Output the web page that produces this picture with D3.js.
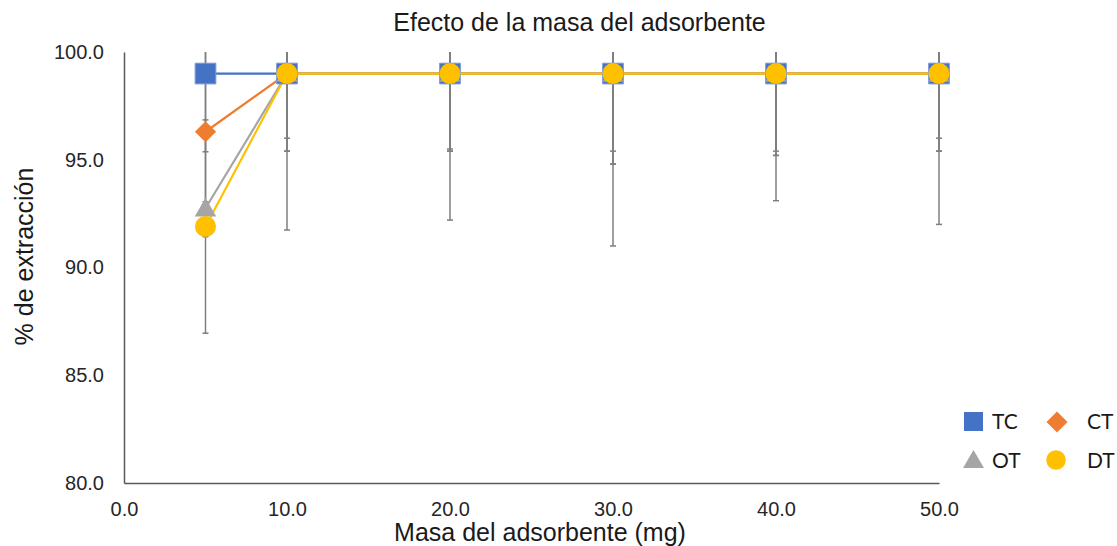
<!DOCTYPE html>
<html>
<head>
<meta charset="utf-8">
<script src="https://cdn.jsdelivr.net/npm/d3@7"></script>
<style>
  html, body { margin: 0; padding: 0; background: #fff; }
  svg { display: block; }
</style>
</head>
<body>
<svg id="chart" width="1117" height="546"></svg>
<script>
// ---- Data ----
const masses = [5, 10, 20, 30, 40, 50];
const seriesNames = ["TC", "CT", "OT", "DT"];
const tcValues = [99.0, 99.0, 99.0, 99.0, 99.0, 99.0];
const ctValues = [96.3, 99.0, 99.0, 99.0, 99.0, 99.0];
const otValues = [92.75, 99.0, 99.0, 99.0, 99.0, 99.0];
const dtValues = [91.9, 99.0, 99.0, 99.0, 99.0, 99.0];
const tcErrors = [3.63, 3.0, 3.5, 3.6, 3.6, 3.0];
const ctErrors = [4.87, 3.6, 3.6, 4.2, 3.8, 3.6];
const otErrors = [0.3, 7.26, 6.8, 8.0, 5.9, 7.0];
const dtErrors = [4.95, 3.6, 3.6, 4.2, 3.8, 3.6];
const xTicks = [0, 10, 20, 30, 40, 50];
const yTicks = [80, 85, 90, 95, 100];
const titleText = "Efecto de la masa del adsorbente";
const xTitle = "Masa del adsorbente (mg)";
const yTitle = "% de extracción";

const colors = { TC: "#4472C4", CT: "#ED7D31", OT: "#A5A5A5", DT: "#FFC000" };
const symbols = { TC: d3.symbolSquare, CT: d3.symbolSquare, OT: d3.symbolTriangle, DT: d3.symbolCircle };
const symRotate = { TC: 0, CT: 45, OT: 0, DT: 0 };
const symSizes = { TC: 430, CT: 225, OT: 200, DT: 350 };

const series = [
  { name: "TC", values: tcValues, errors: tcErrors },
  { name: "CT", values: ctValues, errors: ctErrors },
  { name: "OT", values: otValues, errors: otErrors },
  { name: "DT", values: dtValues, errors: dtErrors }
];

// ---- Layout ----
const svg = d3.select("#chart");
const pLeft = 124, pRight = 939, pTop = 52, pBottom = 483;
const x = d3.scaleLinear().domain([0, 50]).range([pLeft, pRight]);
const y = d3.scaleLinear().domain([80, 100]).range([pBottom, pTop]);
const font = "'Liberation Sans', Arial, sans-serif";

// Title
svg.append("text").attr("x", 579.5).attr("y", 31)
  .attr("text-anchor", "middle").attr("font-family", font).attr("font-size", 25)
  .attr("fill", "#1a1a1a").text(titleText);

// Axes
const yAxis = d3.axisLeft(y).tickValues(yTicks).tickFormat(d3.format(".1f")).tickSize(0).tickPadding(20);
const xAxis = d3.axisBottom(x).tickValues(xTicks).tickFormat(d3.format(".1f")).tickSize(0).tickPadding(20);

const gy = svg.append("g").attr("transform", `translate(${pLeft},0)`).call(yAxis);
const gx = svg.append("g").attr("transform", `translate(0,${pBottom})`).call(xAxis);
[gy, gx].forEach(g => {
  g.select(".domain").attr("stroke", "#595959").attr("stroke-width", 1.5);
  g.selectAll("text").attr("font-family", font).attr("font-size", 20).attr("fill", "#262626");
});
gx.selectAll("text").attr("dy", "0.71em").attr("y", 19);

// Axis titles
svg.append("text").attr("x", 540).attr("y", 541)
  .attr("text-anchor", "middle").attr("font-family", font).attr("font-size", 25)
  .attr("fill", "#1a1a1a").text(xTitle);
svg.append("text").attr("transform", "translate(33,256.5) rotate(-90)")
  .attr("text-anchor", "middle").attr("font-family", font).attr("font-size", 25)
  .attr("fill", "#1a1a1a").text(yTitle);

// Clip for error bars (upper ends are cut at the axis maximum)
svg.append("clipPath").attr("id", "plotclip")
  .append("rect").attr("x", 0).attr("y", pTop).attr("width", 1117).attr("height", pBottom - pTop);

// Error bars
const eg = svg.append("g").attr("clip-path", "url(#plotclip)");
series.forEach(s => {
  masses.forEach((m, i) => {
    const v = s.values[i], e = s.errors[i];
    const cx = x(m);
    const y1 = y(v + e), y0 = y(v - e);
    eg.append("line").attr("x1", cx).attr("x2", cx).attr("y1", y1).attr("y2", y0)
      .attr("stroke", "#7f7f7f").attr("stroke-width", 1.5);
    [y1, y0].forEach(yy => {
      eg.append("line").attr("x1", cx - 3).attr("x2", cx + 3).attr("y1", yy).attr("y2", yy)
        .attr("stroke", "#7f7f7f").attr("stroke-width", 1.5);
    });
  });
});

// Lines
const line = d3.line().x((d, i) => x(masses[i])).y(d => y(d));
series.forEach(s => {
  svg.append("path").datum(s.values).attr("d", line)
    .attr("fill", "none").attr("stroke", colors[s.name]).attr("stroke-width", 2.2);
});

// Markers
series.forEach(s => {
  const sym = d3.symbol().type(symbols[s.name]).size(symSizes[s.name]);
  svg.append("g").selectAll("path").data(s.values).join("path")
    .attr("d", sym)
    .attr("transform", (d, i) => `translate(${x(masses[i])},${y(d) + (s.name === "OT" ? 2 : 0)}) rotate(${symRotate[s.name]})`)
    .attr("fill", colors[s.name])
    .attr("stroke", s.name === "TC" ? "#7f9bd6" : "none")
    .attr("stroke-width", 1);
});

// Legend
const legendItems = [
  { name: "TC", sx: 973.5, sy: 421.5, tx: 992, ty: 429 },
  { name: "CT", sx: 1057, sy: 422, tx: 1087, ty: 429 },
  { name: "OT", sx: 973.5, sy: 462, tx: 992, ty: 468 },
  { name: "DT", sx: 1056, sy: 460, tx: 1087, ty: 468 }
];
const lg = svg.append("g");
legendItems.forEach(it => {
  const size = { TC: 360, CT: 220, OT: 190, DT: 300 }[it.name];
  lg.append("path").attr("d", d3.symbol().type(symbols[it.name]).size(size)())
    .attr("transform", `translate(${it.sx},${it.sy}) rotate(${symRotate[it.name]})`).attr("fill", colors[it.name]);
  lg.append("text").attr("x", it.tx).attr("y", it.ty)
    .attr("font-family", "Lato, 'Open Sans', sans-serif").attr("font-size", 21)
    .attr("fill", "#1a1a1a").text(it.name);
});
</script>
</body>
</html>
